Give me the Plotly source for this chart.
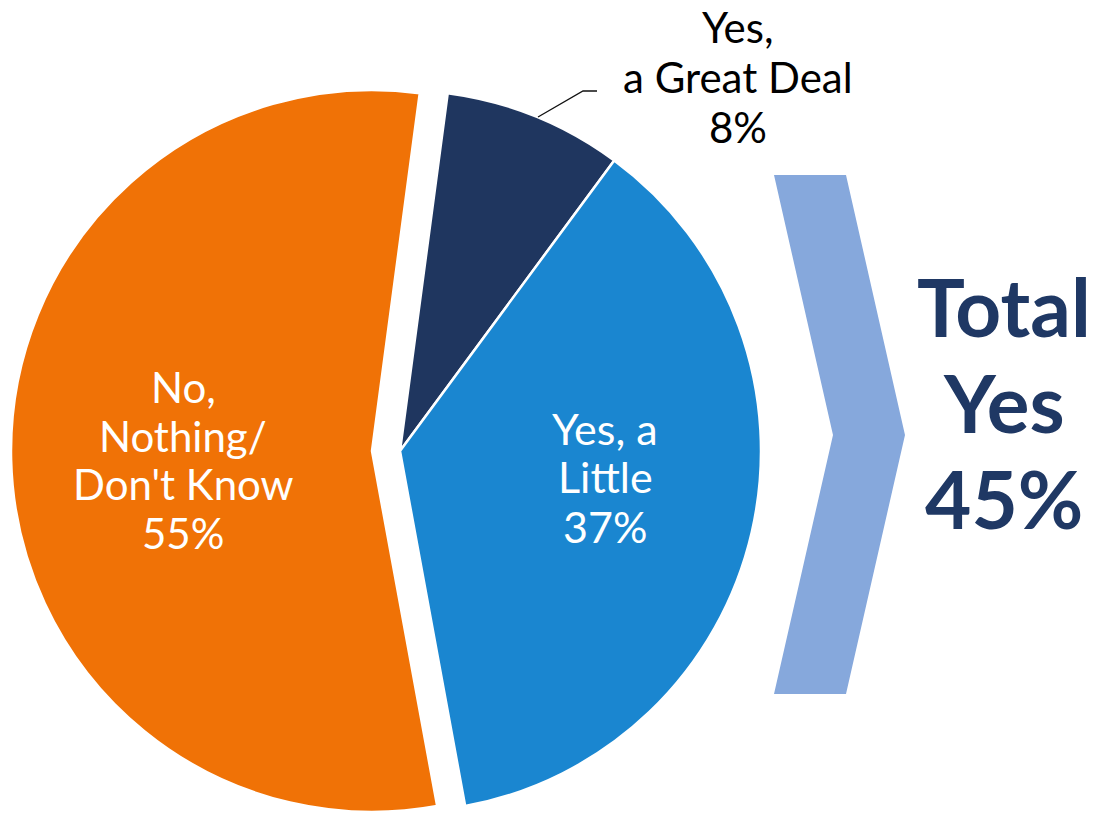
import plotly.graph_objects as go

# ---- data ----
labels = ["Yes, a Great Deal", "Yes, a Little", "No, Nothing/Don't Know"]
values = [8, 37, 55]
label_lines = [["Yes,", "a Great Deal", "8%"],
               ["Yes, a", "Little", "37%"],
               ["No,", "Nothing/", "Don't Know", "55%"]]
total_lines = ["Total", "Yes", "45%"]

colors = ["#1F365F", "#1A86D0", "#F07206"]
CLEAR = "rgba(0,0,0,0)"

W, H = 1095, 815


def px(x):
    return x / W


def py(y):
    return 1 - y / H


# pie geometry in pixels (center, radius) and explode offset for the "No" slice
cx, cy, r = 400, 451, 361
explode = 28

fig = go.Figure()

# main pie: Yes slices
fig.add_trace(go.Pie(
    labels=labels, values=values, sort=False, direction="clockwise", rotation=7.6,
    marker=dict(colors=[colors[0], colors[1], CLEAR],
                line=dict(color="white", width=[2.5, 2.5, 0])),
    textinfo="none", hoverinfo="label+percent", showlegend=False,
    domain=dict(x=[px(cx - r), px(cx + r)], y=[py(cy + r), py(cy - r)]),
))

# exploded "No" slice
fig.add_trace(go.Pie(
    labels=labels, values=values, sort=False, direction="clockwise", rotation=7.6,
    marker=dict(colors=[CLEAR, CLEAR, colors[2]],
                line=dict(color="white", width=[0, 0, 2.5])),
    textinfo="none", hoverinfo="label+percent", showlegend=False,
    domain=dict(x=[px(cx - explode - r), px(cx - explode + r)], y=[py(cy + r), py(cy - r)]),
))

annotations = []


def add_lines(lines, xc, y0, step, size, color, bold=False):
    for i, t in enumerate(lines):
        annotations.append(dict(
            x=px(xc), y=py(y0 + i * step), xref="paper", yref="paper",
            text=f"<b>{t}</b>" if bold else t, showarrow=False,
            xanchor="center", yanchor="middle",
            font=dict(family="Lato", size=size, color=color),
        ))


add_lines(label_lines[0], 738, 27, 50, 42, "#000000")
add_lines(label_lines[1], 605, 428, 49, 43, "#FFFFFF")
add_lines(label_lines[2], 183, 387, 48.5, 42, "#FFFFFF")
add_lines(total_lines, 1004, 306, 96, 80, "#1F3864", bold=True)

shapes = [
    # chevron
    dict(type="path", xref="paper", yref="paper",
         path=(f"M{px(774)},{py(175)} L{px(846)},{py(175)} L{px(905)},{py(435)} "
               f"L{px(846)},{py(694)} L{px(774)},{py(694)} L{px(833)},{py(435)} Z"),
         fillcolor="#86A8DC", line=dict(width=0)),
    # leader line for small slice label
    dict(type="path", xref="paper", yref="paper",
         path=f"M{px(538)},{py(117)} L{px(583)},{py(91)} L{px(597)},{py(91)}",
         line=dict(color="#111111", width=1.3)),
]

fig.update_layout(
    width=W, height=H, margin=dict(l=0, r=0, t=0, b=0),
    paper_bgcolor="white", plot_bgcolor="white",
    annotations=annotations, shapes=shapes, showlegend=False,
)

fig.write_html(
    "out.html",
    config={"displayModeBar": False},
    post_script="document.body.style.margin='0';document.body.style.overflow='hidden';",
)
